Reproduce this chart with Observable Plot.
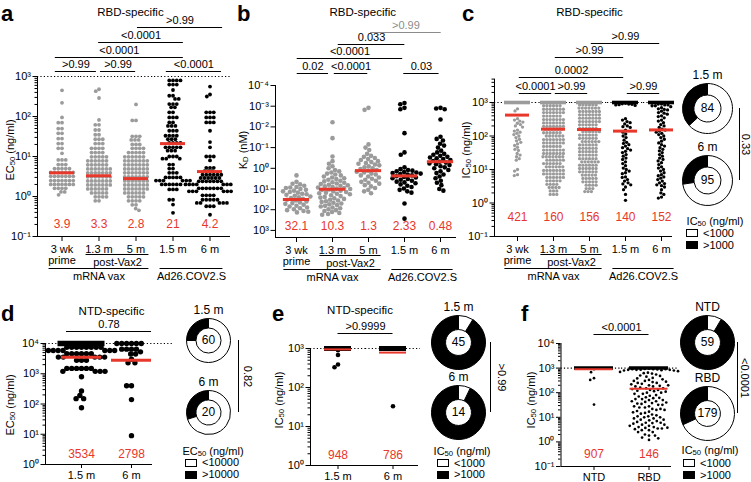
<!DOCTYPE html>
<html><head><meta charset="utf-8">
<script src="https://cdn.jsdelivr.net/npm/d3@7"></script>
<script src="https://cdn.jsdelivr.net/npm/@observablehq/plot@0.6"></script>
<style>
body{margin:0;background:#fff;}
#root{position:relative;width:751px;height:482px;overflow:hidden;background:#fff;font-family:"Liberation Sans",Arial,Helvetica,sans-serif;color:#000;}
.letter{position:absolute;font-weight:bold;font-size:22px;line-height:1;}
.ylab{position:absolute;font-size:11px;white-space:nowrap;line-height:1;transform:translate(-50%,-50%) rotate(-90deg);}
.legt{position:absolute;font-size:11px;white-space:nowrap;line-height:1;transform:translate(-50%,-50%);}
.legr{position:absolute;font-size:11px;white-space:nowrap;line-height:1;}
.box{position:absolute;width:10px;height:6px;border:1px solid #000;}
sub{font-size:70%;vertical-align:-1px;line-height:0;}
</style></head><body><div id="root"></div>
<script>
// ================= DATA =================
const topGroups = ["3 wk", "1.3 m", "5 m", "1.5 m", "6 m"];
const topTickLabels = ["3 wk\nprime", "1.3 m", "5 m", "1.5 m", "6 m"];

// Panel a: RBD-specific EC50 (ng/ml); rows of [value, count]
const aRows = [
 [[450,1],[220,1],[95,1],[70,2],[50,2],[38,2],[28,2],[21,2],[16,2],[12,1],[8.2,3],[6.3,3],[5,5],[4,7],[3.2,7],[2.5,7],[2,7],[1.6,4],[1.3,2],[1.1,1]],
 [[480,1],[430,1],[290,1],[82,1],[62,2],[46,2],[35,2],[27,3],[21,3],[16,4],[12.5,4],[9.8,5],[7.8,6],[6.2,6],[4.9,7],[3.9,7],[3.1,7],[2.45,7],[1.95,7],[1.55,6],[1.23,5],[0.98,4],[0.78,2]],
 [[200,1],[80,2],[32,3],[26,3],[20,3],[16,4],[12.5,5],[9.8,6],[7.8,7],[6.2,7],[4.9,7],[3.9,7],[3.1,7],[2.45,7],[1.95,7],[1.55,7],[1.23,6],[0.98,5],[0.78,4],[0.62,2],[0.5,1],[0.45,1]],
 [[800,4],[630,3],[460,1],[330,2],[275,2],[205,3],[170,2],[127,2],[95,3],[71,2],[58,3],[44,3],[33,4],[27,3],[22,4],[17,5],[14,3],[10,3],[8.8,3],[6.3,2],[5,2],[3.9,3],[3,5],[2.5,6],[2,6],[1.5,3],[0.83,2],[0.63,1],[0.39,1]],
 [[560,1],[355,1],[316,1],[127,3],[95,3],[71,3],[44,1],[23,1],[17,1],[10,3],[8,1],[5.2,3],[4.3,3],[3.5,6],[2.9,6],[2.4,7],[2,7],[1.6,7],[1.35,6],[1.07,4],[0.83,5],[0.69,5],[0.57,3],[0.35,1]]
];
const aMedians = ["3.9", "3.3", "2.8", "21", "4.2"];

// Panel b: RBD-specific KD (nM)
const bVals = [
 [2.2,4.5,5.6,6,7,8,8.5,9,10,11,12,13,14,15,17,18,19,21,23,25,27,30,33,36,40,44,48,52,58,64,70,78,85,95,105,115,125,135],
 [0.006,0.035,0.27,0.45,0.6,0.8,1,1.2,1.4,1.6,1.8,2,2.2,2.5,2.8,3,3.3,3.6,4,4.3,4.7,5,5.4,5.8,6.2,6.6,7,7.5,8,8.5,9,9.5,10,10.5,11,12,13,14,15,16,17,18,20,22,24,26,28,30,33,36,39,42,46,50,55,60,65,70,78,85,95,105,115,130,145,160,175],
 [0.0012,0.0015,0.07,0.1,0.13,0.2,0.25,0.28,0.32,0.36,0.4,0.45,0.5,0.55,0.6,0.66,0.72,0.8,0.9,1,1.1,1.2,1.3,1.45,1.6,1.8,2,2.2,2.5,2.8,3.2,3.6,4,4.5,5,5.5,6.5,7.5,9,11,13,16],
 [0.0007,0.0008,0.0012,0.0014,0.02,0.17,0.22,0.9,1.1,1.2,1.3,1.4,1.5,1.6,1.7,1.8,1.9,2,2.2,2.4,2.6,2.8,3,3.3,3.6,4,4.4,4.8,5.3,6,7,8,9.5,11,13,15,50,270],
 [0.0012,0.0013,0.0014,0.0044,0.03,0.038,0.045,0.065,0.08,0.1,0.14,0.17,0.2,0.22,0.25,0.28,0.3,0.33,0.36,0.4,0.44,0.48,0.53,0.58,0.64,0.7,0.8,0.9,1,1.2,1.4,1.7,2,2.5,3,4,5,6.5,10,12]
];
const bMedians = ["32.1", "10.3", "1.3", "2.33", "0.48"];

// Panel c: RBD-specific IC50 (ng/ml); count at the 1000 ceiling + values below it
const cCeil = [30, 25, 28, 31, 26];
const cBelow = [
 [650,560,330,300,280,260,240,220,200,185,150,140,130,120,110,100,90,80,72,65,58,52,46,40,37,30,27,24,21,19,10,9,7,6.6],
 [[800,6],[630,7],[500,7],[395,6],[310,7],[245,7],[195,7],[160,6],[125,6],[100,6],[78,7],[62,7],[49,6],[38,7],[30,7],[24,7],[19,6],[15,6],[12,6],[9.4,7],[7.4,7],[5.8,6],[4.6,5],[3.6,4],[2.9,4],[2.3,3],[1.8,3]],
 [[850,6],[680,7],[540,7],[430,7],[340,7],[270,7],[215,6],[170,6],[135,6],[107,6],[85,6],[68,6],[54,6],[43,6],[34,6],[27,6],[21,6],[17,6],[13.5,6],[10.7,6],[8.5,6],[6.8,5],[5.4,5],[4.3,5],[3.4,4],[2.7,3],[2.2,3]],
 [950,920,900,880,860,850,820,330,300,270,250,230,200,190,180,150,130,115,100,90,75,65,60,55,50,45,42,38,35,32,28,25,22,20,17,15,13,11,10,9,8,7.5,6,5.8,5,4.5,4,3.7,3.5,3,2.5,1.8,1.2],
 [900,900,850,850,800,800,750,700,650,620,600,550,500,480,450,400,380,350,300,280,250,220,200,180,160,150,140,130,120,110,100,90,80,70,62,55,50,45,40,36,32,28,25,22,20,18,16,14,12,11,10,9,8,7,6.5,6,5.5,5,4.5,4,3.8,3.5,3.3,3,2.5,2,1.8,1.5,1.4]
];
const cMedians = ["421", "160", "156", "140", "152"];

// Panel d: NTD-specific EC50 (ng/ml); ceiling 10000
const dGroups = ["1.5 m", "6 m"];
const dCeil = [15, 6];
const dBelow = [
 [[7500,8],[5900,7],[4600,6],[3550,5],[2800,3],[1500,6],[1200,4],[800,1],[270,1],[190,1],[150,2],[75,1]],
 [[6500,4],[5300,1],[4500,2],[3000,1],[2300,2],[400,2],[140,1],[9,1]]
];
const dMedians = ["3534", "2798"];

// Panel e: NTD-specific IC50 (ng/ml); ceiling 1000
const eGroups = ["1.5 m", "6 m"];
const eCeil = [41, 13];
const eBelow = [[900, 680, 390, 330], [33]];
const eMedians = ["948", "786"];

// Panel f: NTD vs RBD IC50 (ng/ml)
const fGroups = ["NTD", "RBD"];
const fMedians = ["907", "146"];

// ================= HELPERS =================
const RED = "#e8372b", GRAY = "#9b9b9b", BLACK = "#000";
const FONT = '"Liberation Sans", Arial, Helvetica, sans-serif';
const expand = rows => rows.flatMap(r => Array.isArray(r) ? Array(r[1]).fill(r[0]) : [r]);
const SUP = {"-":"\u207B","0":"\u2070","1":"\u00B9","2":"\u00B2","3":"\u00B3","4":"\u2074","5":"\u2075","6":"\u2076","7":"\u2077","8":"\u2078","9":"\u2079"};
const pow10 = v => "10" + String(Math.round(Math.log10(v))).split("").map(ch => SUP[ch]).join("");
function decades(lo, hi) { const t = []; for (let e = lo; e <= hi; e++) t.push(+("1e" + e)); return t; }
function minors(lo, hi, max) { const t = []; for (let e = lo; e < hi; e++) for (let m = 2; m <= 9; m++) { const v = +(m + "e" + e); if (v <= max) t.push(v); } return t; }
const withCeil = (count, ceil, below) => [...Array(count).fill(ceil), ...expand(below)];

const aSeries = aRows.map(expand);
const bSeries = bVals;
const cSeries = cCeil.map((n, i) => withCeil(n, 1000, cBelow[i]));
const dSeries = dCeil.map((n, i) => withCeil(n, 10000, dBelow[i]));
const eSeries = eCeil.map((n, i) => withCeil(n, 1000, eBelow[i]));
const fSeries = [[...eSeries[0], ...eSeries[1]], [...cSeries[3], ...cSeries[4]]];

const root = document.getElementById("root");
function place(el, left, top) { el.style.position = "absolute"; el.style.left = left + "px"; el.style.top = top + "px"; root.appendChild(el); }

function makePanel(c) {
  const n = c.groups.length;
  const fw = (c.width - c.mL - c.mR) / n;
  const yBot = c.reverse ? c.yDomain[1] : c.yDomain[0];
  const pts = [], bands = [];
  c.groups.forEach((g, i) => {
    const vals = c.series[i];
    const nc = c.ceiling ? vals.filter(v => v >= c.ceiling).length : 0;
    const band = nc > 8;
    if (band) bands.push({g, col: c.colors[i]});
    for (const v of vals) if (!(band && v >= c.ceiling)) pts.push({g, v, col: c.colors[i]});
  });
  const meds = c.groups.map((g, i) => ({g, m: +c.medians[i], lab: c.medians[i]}));
  const pieces = (a, b, f1, f2) => d3.range(a, b + 1).map(k => ({fx: c.groups[k], x1: k === a ? f1 : 0, x2: k === b ? f2 : 1}));
  const spanAt = (a, b, f1, f2) => { const m = (a + f1 + b + f2) / 2; const k = Math.min(n - 1, Math.floor(m)); return {fx: c.groups[k], x: m - k}; };
  const hline = (yv, f1, f2, opts) => Plot.ruleY(pieces(0, n - 1, f1, f2), {fx: "fx", x1: "x1", x2: "x2", y: () => yv, ...opts});
  const marks = [];
  marks.push(hline(yBot, -c.off / fw, 1 + (c.extR || 0) / fw, {stroke: BLACK, strokeWidth: 1}));
  marks.push(Plot.ruleX([c.groups[0]], {fx: d => d, x: () => 0, dx: -c.off, stroke: BLACK, strokeWidth: 1}));
  if (c.dotted) marks.push(hline(c.dotted, -c.off / fw, 1 + (c.dotExtR ?? c.extR ?? 0) / fw, {stroke: BLACK, strokeDasharray: "1.2,2.2", strokeWidth: 1.1}));
  marks.push(Plot.axisY({ticks: c.major, tickFormat: pow10, tickSize: 4.5, tickPadding: 2, dx: -c.off, fontSize: 11, label: null}));
  if (c.minor) marks.push(Plot.axisY({ticks: c.minor, tickFormat: () => "", tickSize: 2.5, dx: -c.off, label: null}));
  marks.push(Plot.axisFx({anchor: "bottom", tickSize: c.tickSize ?? 5, tickPadding: c.tickPad ?? 3, tickFormat: d => c.tickLabels[c.groups.indexOf(d)], fontSize: 11, label: null, lineHeight: 1.05}));
  if (bands.length) marks.push(Plot.tickY(bands, {fx: "g", y: () => c.ceiling, stroke: "col", strokeWidth: c.bandT, insetLeft: (fw - c.bandW) / 2, insetRight: (fw - c.bandW) / 2}));
  marks.push(Plot.dot(pts, Plot.dodgeX({anchor: "middle", r: c.rDodge, padding: c.pad}, {fx: "g", y: "v", r: c.rDraw, fill: "col", stroke: null})));
  marks.push(Plot.tickY(meds, {fx: "g", y: "m", stroke: RED, strokeWidth: c.medT, insetLeft: (fw - c.medW) / 2, insetRight: (fw - c.medW) / 2}));
  marks.push(Plot.text(meds, {fx: "g", text: "lab", frameAnchor: "bottom", dy: c.medDy, fill: RED, fontSize: 12}));
  for (const br of (c.brackets || [])) {
    const f1 = br.f1 ?? 0.55, f2 = br.f2 ?? 0.45, dyl = -c.rows[br.row];
    marks.push(Plot.ruleY(pieces(br.a, br.b, f1, f2), {fx: "fx", x1: "x1", x2: "x2", y: () => c.base, dy: dyl, stroke: br.color || BLACK, strokeWidth: 1}));
    marks.push(Plot.text([spanAt(br.a, br.b, f1, f2)], {fx: "fx", x: "x", y: () => c.base, dy: dyl - 7, text: () => br.label, fontSize: 11, fill: br.color || BLACK}));
  }
  for (const lb of (c.lower || [])) {
    const f1 = lb.f1 ?? 0.15, f2 = lb.f2 ?? 0.85;
    marks.push(Plot.ruleY(pieces(lb.a, lb.b, f1, f2), {fx: "fx", x1: "x1", x2: "x2", y: () => yBot, dy: lb.line, stroke: BLACK, strokeWidth: 1}));
    marks.push(Plot.text([spanAt(lb.a, lb.b, f1, f2)], {fx: "fx", x: "x", y: () => yBot, dy: lb.text, text: () => lb.label, fontSize: 11}));
  }
  if (c.title) {
    const [t1, t2] = c.titleF || [0.5, 0.5];
    marks.push(Plot.text([spanAt(0, n - 1, t1, t2)], {fx: "fx", x: "x", y: () => c.base, dy: c.titleDy, text: () => c.title, fontSize: 11.5}));
  }
  const svg = Plot.plot({
    width: c.width, height: c.height, marginLeft: c.mL, marginRight: c.mR, marginTop: c.mT, marginBottom: c.mB,
    fx: {domain: c.groups, padding: 0, label: null},
    x: {domain: [0, 1], axis: null},
    y: {type: "log", domain: c.yDomain, reverse: !!c.reverse, label: null},
    color: {type: "identity"},
    style: {fontFamily: FONT, fontSize: "11px", background: "transparent", overflow: "visible", color: "#000"},
    marks
  });
  place(svg, c.left, c.top);
}

function arcSymbol(f0, f1, ratio) {
  return {draw(ctx, size) {
    const R = Math.sqrt(size / Math.PI), r0 = R * ratio;
    const a0 = -Math.PI / 2 - 2 * Math.PI * f0, a1 = -Math.PI / 2 - 2 * Math.PI * f1;
    ctx.moveTo(R * Math.cos(a0), R * Math.sin(a0));
    ctx.arc(0, 0, R, a0, a1, true);
    ctx.lineTo(r0 * Math.cos(a1), r0 * Math.sin(a1));
    ctx.arc(0, 0, r0, a1, a0, false);
    ctx.closePath();
  }};
}

function makeDonuts(cfg) {
  const items = cfg.labels.map((lab, i) => { const vals = cfg.series[i]; return {label: lab, n: vals.length, above: vals.filter(v => v >= cfg.thr).length}; });
  const marks = [];
  for (const it of items) {
    const f = it.above / it.n;
    if (f > 0) marks.push(Plot.dot([it], {x: () => "pie", y: "label", r: cfg.R, symbol: arcSymbol(0, f, cfg.ratio), fill: BLACK, stroke: BLACK, strokeWidth: 1}));
    if (f < 1) marks.push(Plot.dot([it], {x: () => "pie", y: "label", r: cfg.R, symbol: arcSymbol(f, 1, cfg.ratio), fill: "#fff", stroke: BLACK, strokeWidth: 1}));
  }
  marks.push(Plot.text(items, {x: () => "pie", y: "label", text: d => String(d.n), fontSize: 12}));
  marks.push(Plot.text(items, {x: () => "pie", y: "label", text: "label", dy: -(cfg.R + 8), fontSize: 12}));
  marks.push(Plot.ruleX([cfg.p], {x: () => "pie", y1: () => cfg.labels[0], y2: () => cfg.labels[1], dx: cfg.pdx, stroke: BLACK, strokeWidth: 1}));
  marks.push(Plot.text([cfg.p], {x: () => "pie", frameAnchor: "middle", text: d => d, rotate: 90, dx: cfg.ptdx, fontSize: 11}));
  const svg = Plot.plot({
    width: cfg.width, height: cfg.height, marginLeft: 0, marginRight: 0,
    marginTop: cfg.cy1 - cfg.top, marginBottom: cfg.top + cfg.height - cfg.cy2,
    x: {type: "point", domain: ["pie"], axis: null},
    y: {type: "point", domain: cfg.labels, padding: 0, axis: null},
    style: {fontFamily: FONT, fontSize: "11px", background: "transparent", overflow: "visible", color: "#000"},
    marks
  });
  place(svg, cfg.left, cfg.top);
}

function html(cls, text, left, top) { const d = document.createElement("div"); d.className = cls; d.innerHTML = text; d.style.left = left + "px"; d.style.top = top + "px"; root.appendChild(d); return d; }
function legend(title, cx, ty, boxLeft, rowYs, labels) {
  html("legt", title, cx, ty);
  rowYs.forEach((y, i) => {
    const b = html("box", "", boxLeft, y - 4); b.style.background = i === 0 ? "#fff" : "#000";
    html("legr", labels[i], boxLeft + 17, y - 5.5);
  });
}

// ================= PANELS =================
const topLower = [
  {a: 1, b: 2, label: "post-Vax2", line: 18, text: 26},
  {a: 0, b: 2, label: "mRNA vax", line: 32, text: 40},
  {a: 3, b: 4, label: "Ad26.COV2.S", line: 32, text: 40}
];
const topColors = [GRAY, GRAY, GRAY, BLACK, BLACK];

makePanel({
  groups: topGroups, tickLabels: topTickLabels, series: aSeries, colors: topColors,
  left: 0, top: 0, width: 240, height: 285, mL: 43, mR: 12, mT: 76, mB: 49, off: 6, extR: 2,
  yDomain: [0.1, 1000], major: decades(-1, 3), minor: minors(-1, 3, 1000), dotted: 1000,
  rDraw: 1.9, rDodge: 1.65, pad: 0.45, medians: aMedians, medW: 25, medT: 3, medDy: -9,
  base: 1000, rows: [5, 19, 34, 49],
  brackets: [
    {a: 0, b: 1, label: ">0.99", row: 0, f1: 0.32, f2: 0.43}, {a: 1, b: 2, label: ">0.99", row: 0, f1: 0.54, f2: 0.49},
    {a: 3, b: 4, label: "<0.0001", row: 0, f1: 0.32, f2: 0.81},
    {a: 0, b: 3, label: "<0.0001", row: 1, f1: 0.32, f2: 0.78}, {a: 1, b: 3, label: "<0.0001", row: 2, f1: 0.49, f2: 0.78},
    {a: 2, b: 4, label: ">0.99", row: 3, f1: 0.54, f2: 0.84}
  ],
  lower: topLower, title: "RBD-specific", titleDy: -64, titleF: [0.2, 0.5]
});

makePanel({
  groups: topGroups, tickLabels: topTickLabels, series: bSeries, colors: topColors,
  left: 245, top: 0, width: 225, height: 285, mL: 31, mR: 10.25, mT: 85, mB: 48, off: 3, extR: -2,
  yDomain: [1e-4, 2200], reverse: true, major: decades(-4, 3),
  rDraw: 2.3, rDodge: 2.0, pad: 0.4, medians: bMedians, medW: 27, medT: 3, medDy: -8,
  base: 1e-4, rows: [12, 27, 41, 53],
  brackets: [
    {a: 0, b: 1, label: "0.02", row: 0, f1: 0.52, f2: 0.39}, {a: 1, b: 2, label: "<0.0001", row: 0, f1: 0.55, f2: 0.48},
    {a: 3, b: 4, label: "0.03", row: 0, f1: 0.48, f2: 0.46},
    {a: 0, b: 3, label: "<0.0001", row: 1, f1: 0.52, f2: 0.45}, {a: 1, b: 3, label: "0.033", row: 2, f1: 0.66, f2: 0.51},
    {a: 2, b: 4, label: ">0.99", row: 3, color: "#8c8c8c", f1: 0.56, f2: 0.52}
  ],
  lower: topLower, title: "RBD-specific", titleDy: -73, titleF: [0.18, 0.5]
});

makePanel({
  groups: topGroups, tickLabels: topTickLabels, series: cSeries, colors: topColors,
  left: 470, top: 0, width: 212, height: 285, mL: 29, mR: 3, mT: 78.6, mB: 49, off: 5, extR: -7,
  yDomain: [0.1, 5000], major: decades(-1, 3), minor: minors(-1, 4, 5000), dotted: 1000,
  ceiling: 1000, bandW: 26, bandT: 3.6,
  rDraw: 1.65, rDodge: 1.5, pad: 0.3, medians: cMedians, medW: 24, medT: 3, medDy: -16,
  base: 1000, rows: [9, 25, 45, 59],
  brackets: [
    {a: 0, b: 1, label: "<0.0001", row: 0}, {a: 1, b: 2, label: ">0.99", row: 0}, {a: 3, b: 4, label: ">0.99", row: 0},
    {a: 0, b: 3, label: "0.0002", row: 1}, {a: 1, b: 3, label: ">0.99", row: 2}, {a: 2, b: 4, label: ">0.99", row: 3}
  ],
  lower: topLower, title: "RBD-specific", titleDy: -90
});

makePanel({
  groups: dGroups, tickLabels: dGroups, series: dSeries, colors: [BLACK, BLACK],
  left: 0, top: 290, width: 180, height: 192, mL: 56, mR: 24, mT: 53, mB: 18, off: 11, extR: -4, dotExtR: 16,
  yDomain: [1, 10000], major: decades(0, 4), minor: minors(0, 4, 10000), dotted: 10000,
  ceiling: 10000, bandW: 47, bandT: 5.4, tickSize: 4, tickPad: 2,
  rDraw: 2.7, rDodge: 2.2, pad: 0.5, medians: dMedians, medW: 40, medT: 3, medDy: -7,
  base: 10000, rows: [12],
  brackets: [{a: 0, b: 1, label: "0.78", row: 0, f1: 0.2, f2: 0.9}],
  title: "NTD-specific", titleDy: -32, titleF: [0.6, 0.6]
});

makePanel({
  groups: eGroups, tickLabels: eGroups, series: eSeries, colors: [BLACK, BLACK],
  left: 265, top: 290, width: 165, height: 192, mL: 45, mR: 10, mT: 58, mB: 17, off: 0, extR: -2, dotExtR: 0,
  yDomain: [1, 1000], major: decades(0, 3), minor: minors(0, 3, 1000), dotted: 1000,
  ceiling: 1000, bandW: 27, bandT: 5, tickSize: 4, tickPad: 2,
  rDraw: 2.3, rDodge: 2.0, pad: 0.5, medians: eMedians, medW: 27, medT: 2, medDy: -7,
  base: 1000, rows: [15],
  brackets: [{a: 0, b: 1, label: ">0.9999", row: 0, f1: 0.5, f2: 0.5}],
  title: "NTD-specific", titleDy: -38, titleF: [0.4, 0.4]
});

makePanel({
  groups: fGroups, tickLabels: fGroups, series: fSeries, colors: [BLACK, BLACK],
  left: 515, top: 290, width: 170, height: 192, mL: 50.5, mR: 9.5, mT: 53, mB: 16, off: 5.5, extR: -5, dotExtR: 1.5,
  yDomain: [0.1, 10000], major: decades(-1, 4), minor: minors(-1, 4, 10000), dotted: 1000,
  ceiling: 1000, bandW: 39, bandT: 3.5, tickSize: 4, tickPad: 2,
  rDraw: 1.35, rDodge: 1.9, pad: 0.4, medians: fMedians, medW: 38, medT: 2, medDy: -9,
  base: 10000, rows: [9],
  brackets: [{a: 0, b: 1, label: "<0.0001", row: 0, f1: 0.5, f2: 0.5}]
});

// donuts
makeDonuts({labels: ["1.5 m", "6 m"], series: [cSeries[3], cSeries[4]], thr: 1000, left: 662, top: 50, width: 90, height: 160, cy1: 108, cy2: 180, R: 25, ratio: 0.54, p: "0.33", pdx: 32, ptdx: 38});
makeDonuts({labels: ["1.5 m", "6 m"], series: dSeries, thr: 10000, left: 163, top: 290, width: 90, height: 160, cy1: 340, cy2: 412, R: 22, ratio: 0.57, p: "0.82", pdx: 30, ptdx: 39});
makeDonuts({labels: ["1.5 m", "6 m"], series: eSeries, thr: 1000, left: 413, top: 290, width: 90, height: 160, cy1: 342, cy2: 412, R: 27, ratio: 0.48, p: ">0.99", pdx: 32, ptdx: 43});
makeDonuts({labels: ["NTD", "RBD"], series: fSeries, thr: 1000, left: 662, top: 290, width: 90, height: 160, cy1: 342, cy2: 413, R: 27, ratio: 0.48, p: "<0.0001", pdx: 30, ptdx: 37});

// legends
legend("IC<sub>50</sub> (ng/ml)", 715, 220.5, 686, [233, 245], ["&lt;1000", "&gt;1000"]);
legend("EC<sub>50</sub> (ng/ml)", 213, 450.5, 185, [462.5, 474.5], ["&lt;10000", "&gt;10000"]);
legend("IC<sub>50</sub> (ng/ml)", 462, 450.5, 437, [463, 474.5], ["&lt;1000", "&gt;1000"]);
legend("IC<sub>50</sub> (ng/ml)", 710, 450, 683, [463, 475], ["&lt;1000", "&gt;1000"]);

// axis titles
html("ylab", "EC<sub>50</sub> (ng/ml)", 10, 150);
html("ylab", "K<sub>D</sub> (nM)", 243, 150);
html("ylab", "IC<sub>50</sub> (ng/ml)", 466, 150);
html("ylab", "EC<sub>50</sub> (ng/ml)", 10, 405);
html("ylab", "IC<sub>50</sub> (ng/ml)", 279, 400);
html("ylab", "IC<sub>50</sub> (ng/ml)", 531, 400);

// panel letters
[["a", 1, 3], ["b", 237, 3], ["c", 462, 3], ["d", 1, 303], ["e", 272, 303], ["f", 521, 303]].forEach(([t, x, y]) => html("letter", t, x, y));
</script></body></html>
